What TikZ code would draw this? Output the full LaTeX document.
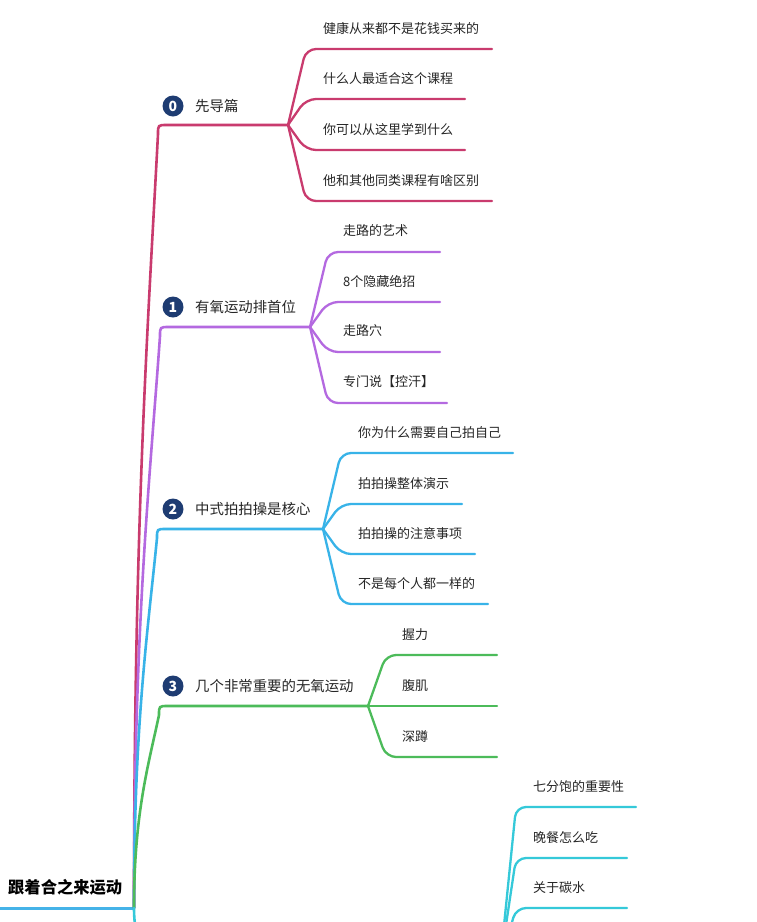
\documentclass[tikz,border=0pt]{standalone}
\usepackage{fontspec}
\setmainfont{Noto Sans CJK SC}
\usepackage{tikz}
\usetikzlibrary{calc}
\definecolor{rootblue}{RGB}{69,179,232}
\definecolor{topicred}{RGB}{201,59,110}
\definecolor{topicpurple}{RGB}{180,105,224}
\definecolor{topicblue}{RGB}{56,179,232}
\definecolor{topicgreen}{RGB}{76,187,90}
\definecolor{topiccyan}{RGB}{53,201,217}
\definecolor{numnavy}{RGB}{30,60,114}
\definecolor{textgray}{RGB}{38,38,38}

\begin{document}
\begin{tikzpicture}[x=1pt, y=-1pt,
rootnode/.style={anchor=west, inner sep=0pt, text=black, font=\fontsize{16.3}{18}\selectfont\bfseries},
topic/.style={anchor=west, inner sep=0pt, text=textgray, font=\fontsize{14.4}{16}\selectfont},
sub/.style={anchor=west, inner sep=0pt, text=textgray, font=\fontsize{13}{15}\selectfont},
num/.style={circle, fill=numnavy, text=white, minimum size=21pt, inner sep=0pt, font=\fontsize{14}{15}\selectfont\bfseries},
trunk/.style={line width=2.6pt, draw=#1, line cap=round},
twig/.style={line width=2.3pt, draw=#1, line cap=round, rounded corners=10pt}
]
\useasboundingbox (0,0) rectangle (756,922);
\fill[white] (0,0) rectangle (756,922);
\clip (0,0) rectangle (756,922);

% Root
\node[rootnode] (root) at (8,887) {跟着合之来运动};
\coordinate (r0) at (0,908);
\coordinate (r) at (134,908);
\draw[line width=3pt, draw=rootblue] (r0) -- (r);

% Branch 0
\coordinate (k0) at (158,125);
\coordinate (f0) at (288,125);
\node[num] (n0) at (173,106) {0};
\node[topic] (t0) at (195,106) {先导篇};
\draw[trunk=topicred] (r) .. controls +(0,-387) and +(-10,190) .. ($(k0)+(0,9)$)
  .. controls (k0) .. ($(k0)+(9,0)$) -- (f0);

\coordinate (c01) at (306,49);  \coordinate (e01) at (492,49);
\coordinate (c02) at (306,99);  \coordinate (e02) at (465,99);
\coordinate (c03) at (306,150); \coordinate (e03) at (465,150);
\coordinate (c04) at (306,201); \coordinate (e04) at (492,201);
\node[sub] (s01) at (323,29) {健康从来都不是花钱买来的};
\node[sub] (s02) at (323,79) {什么人最适合这个课程};
\node[sub] (s03) at (323,130) {你可以从这里学到什么};
\node[sub] (s04) at (323,181) {他和其他同类课程有啥区别};
\draw[twig=topicred] (f0) -- (c01) -- (e01);
\draw[twig=topicred] (f0) -- (c02) -- (e02);
\draw[twig=topicred] (f0) -- (c03) -- (e03);
\draw[twig=topicred] (f0) -- (c04) -- (e04);

% Branch 1
\coordinate (k1) at (160,327);
\coordinate (f1) at (310,327);
\node[num] (n1) at (173,307) {1};
\node[topic] (t1) at (195,307) {有氧运动排首位};
\draw[trunk=topicpurple] (r) .. controls +(0,-286) and +(-10,143) .. ($(k1)+(0,9)$)
  .. controls (k1) .. ($(k1)+(9,0)$) -- (f1);

\coordinate (c11) at (328,252); \coordinate (e11) at (440,252);
\coordinate (c12) at (328,302); \coordinate (e12) at (440,302);
\coordinate (c13) at (328,352); \coordinate (e13) at (440,352);
\coordinate (c14) at (328,403); \coordinate (e14) at (447,403);
\node[sub] (s11) at (343,231) {走路的艺术};
\node[sub] (s12) at (343,281) {8个隐藏绝招};
\node[sub] (s13) at (343,331) {走路穴};
\node[sub] (s14) at (343,382) {专门说【控汗】};
\draw[twig=topicpurple] (f1) -- (c11) -- (e11);
\draw[twig=topicpurple] (f1) -- (c12) -- (e12);
\draw[twig=topicpurple] (f1) -- (c13) -- (e13);
\draw[twig=topicpurple] (f1) -- (c14) -- (e14);

% Branch 2
\coordinate (k2) at (157,529);
\coordinate (f2) at (323,529);
\node[num] (n2) at (173,509) {2};
\node[topic] (t2) at (195,509) {中式拍拍操是核心};
\draw[trunk=topicblue] (r) .. controls +(0,-185) and +(-9,92) .. ($(k2)+(0,9)$)
  .. controls (k2) .. ($(k2)+(9,0)$) -- (f2);

\coordinate (c21) at (341,453); \coordinate (e21) at (513,453);
\coordinate (c22) at (341,504); \coordinate (e22) at (462,504);
\coordinate (c23) at (341,554); \coordinate (e23) at (475,554);
\coordinate (c24) at (341,604); \coordinate (e24) at (488,604);
\node[sub] (s21) at (358,433) {你为什么需要自己拍自己};
\node[sub] (s22) at (358,484) {拍拍操整体演示};
\node[sub] (s23) at (358,534) {拍拍操的注意事项};
\node[sub] (s24) at (358,584) {不是每个人都一样的};
\draw[twig=topicblue] (f2) -- (c21) -- (e21);
\draw[twig=topicblue] (f2) -- (c22) -- (e22);
\draw[twig=topicblue] (f2) -- (c23) -- (e23);
\draw[twig=topicblue] (f2) -- (c24) -- (e24);

% Branch 3
\coordinate (k3) at (159,706);
\coordinate (f3) at (368,706);
\node[num] (n3) at (173,686) {3};
\node[topic] (t3) at (195,686) {几个非常重要的无氧运动};
\draw[trunk=topicgreen] (r) .. controls +(0,-96) and +(-10,48) .. ($(k3)+(0,9)$)
  .. controls (k3) .. ($(k3)+(9,0)$) -- (f3);

\coordinate (c31) at (386,655); \coordinate (e31) at (497,655);
\coordinate (c32) at (386,706); \coordinate (e32) at (497,706);
\coordinate (c33) at (386,757); \coordinate (e33) at (497,757);
\node[sub] (s31) at (402,635) {握力};
\node[sub] (s32) at (402,686) {腹肌};
\node[sub] (s33) at (402,737) {深蹲};
\draw[twig=topicgreen] (f3) -- (c31) -- (e31);
\draw[twig=topicgreen] (f3) -- (c32) -- (e32);
\draw[twig=topicgreen] (f3) -- (c33) -- (e33);

% Branch 4
\coordinate (k4) at (140,965);
\coordinate (f4) at (500,965);
\draw[trunk=topiccyan] (r) .. controls +(0,25) and +(0,-15) .. ($(k4)+(0,-9)$)
  .. controls (k4) .. ($(k4)+(9,0)$) -- (f4);

\coordinate (c41) at (516,807); \coordinate (e41) at (636,807);
\coordinate (c42) at (516,858); \coordinate (e42) at (627,858);
\coordinate (c43) at (516,908); \coordinate (e43) at (627,908);
\node[sub] (s41) at (533,787) {七分饱的重要性};
\node[sub] (s42) at (533,838) {晚餐怎么吃};
\node[sub] (s43) at (533,888) {关于碳水};
\draw[twig=topiccyan] (f4) -- (c41) -- (e41);
\draw[twig=topiccyan] (f4) -- (c42) -- (e42);
\draw[twig=topiccyan] (f4) -- (c43) -- (e43);

\end{tikzpicture}
\end{document}
